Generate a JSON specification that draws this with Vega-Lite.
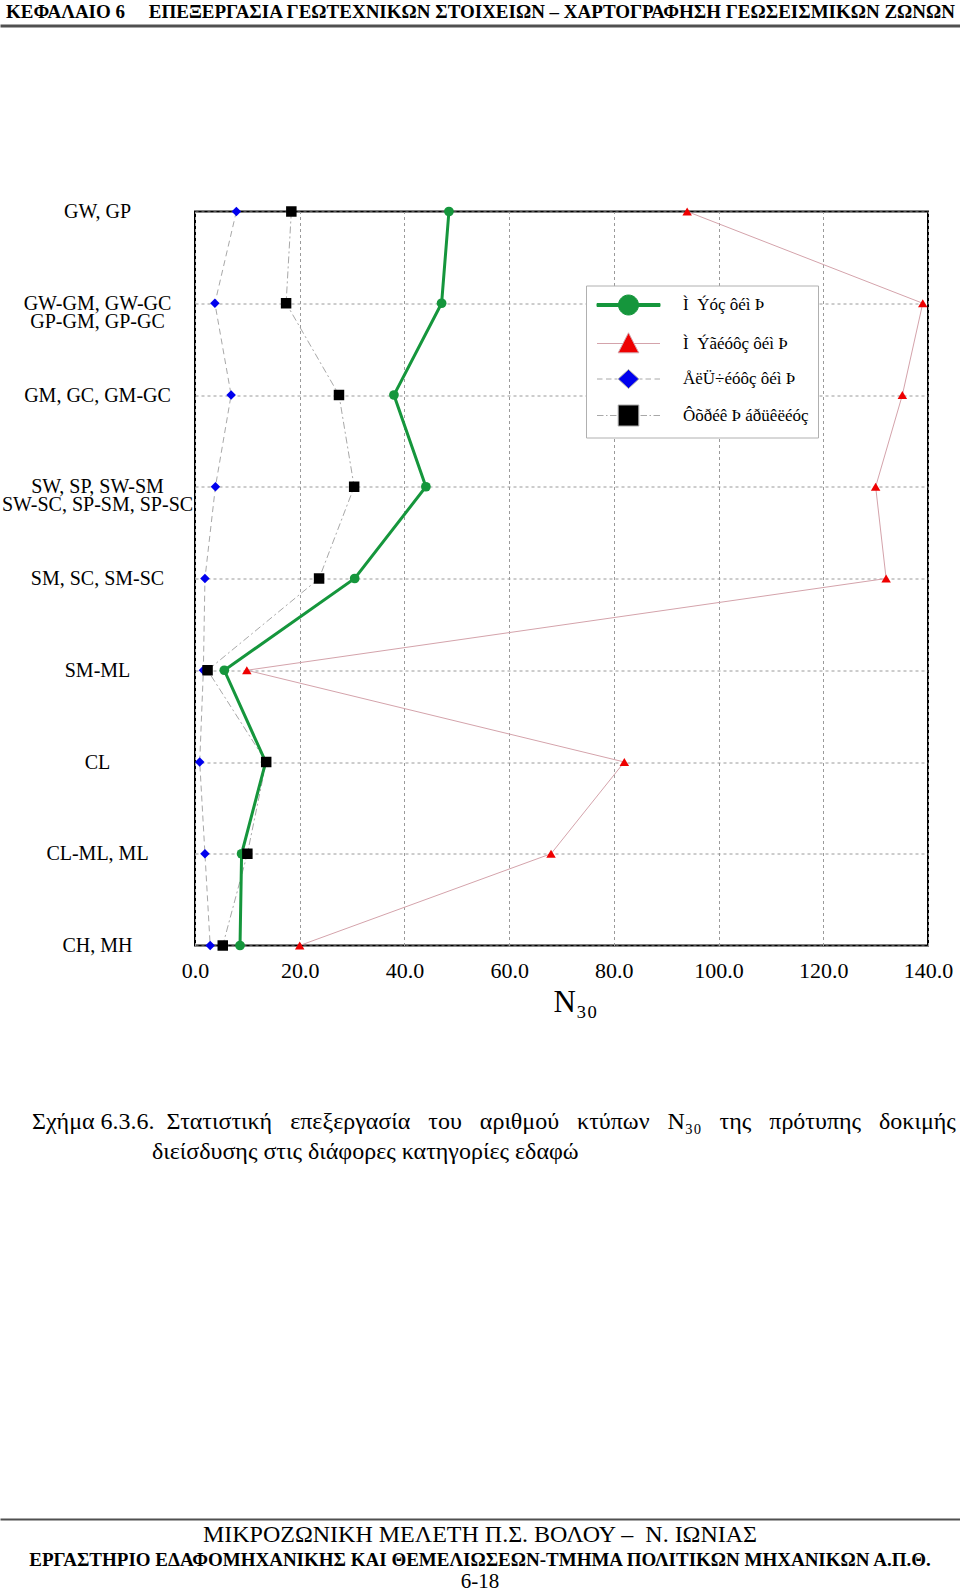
{
  "$schema": "https://vega.github.io/schema/vega-lite/v6.json",
  "padding": {"left": 0, "top": 2.5, "right": 0, "bottom": 0},
  "config": {"view": {"stroke": null}, "font": "Liberation Serif", "title": {"color": "black"}},
  "datasets": {
    "mean": [
      {"cat": "GW, GP", "n": 48.5},
      {"cat": "GW-GM, GW-GC\nGP-GM, GP-GC", "n": 47.1},
      {"cat": "GM, GC, GM-GC", "n": 38.0},
      {"cat": "SW, SP, SW-SM\nSW-SC, SP-SM, SP-SC", "n": 44.1},
      {"cat": "SM, SC, SM-SC", "n": 30.5},
      {"cat": "SM-ML", "n": 5.6},
      {"cat": "CL", "n": 13.5},
      {"cat": "CL-ML, ML", "n": 8.9},
      {"cat": "CH, MH", "n": 8.6}
    ],
    "max": [
      {"cat": "GW, GP", "n": 94.0},
      {"cat": "GW-GM, GW-GC\nGP-GM, GP-GC", "n": 139.0},
      {"cat": "GM, GC, GM-GC", "n": 135.1},
      {"cat": "SW, SP, SW-SM\nSW-SC, SP-SM, SP-SC", "n": 130.0},
      {"cat": "SM, SC, SM-SC", "n": 132.0},
      {"cat": "SM-ML", "n": 9.9},
      {"cat": "CL", "n": 82.0},
      {"cat": "CL-ML, ML", "n": 68.0},
      {"cat": "CH, MH", "n": 20.0}
    ],
    "min": [
      {"cat": "GW, GP", "n": 7.9},
      {"cat": "GW-GM, GW-GC\nGP-GM, GP-GC", "n": 3.8},
      {"cat": "GM, GC, GM-GC", "n": 6.9},
      {"cat": "SW, SP, SW-SM\nSW-SC, SP-SM, SP-SC", "n": 3.9},
      {"cat": "SM, SC, SM-SC", "n": 1.9},
      {"cat": "SM-ML", "n": 1.6},
      {"cat": "CL", "n": 0.9},
      {"cat": "CL-ML, ML", "n": 1.9},
      {"cat": "CH, MH", "n": 2.9}
    ],
    "std": [
      {"cat": "GW, GP", "n": 18.4},
      {"cat": "GW-GM, GW-GC\nGP-GM, GP-GC", "n": 17.4},
      {"cat": "GM, GC, GM-GC", "n": 27.5},
      {"cat": "SW, SP, SW-SM\nSW-SC, SP-SM, SP-SC", "n": 30.4},
      {"cat": "SM, SC, SM-SC", "n": 23.7},
      {"cat": "SM-ML", "n": 2.4},
      {"cat": "CL", "n": 13.6},
      {"cat": "CL-ML, ML", "n": 10.0},
      {"cat": "CH, MH", "n": 5.3}
    ]
  },
  "spacing": 0,
  "resolve": {"scale": {"fill": "independent", "stroke": "independent", "shape": "independent"}},
  "vconcat": [
    {
      "width": 960,
      "height": 174.7,
      "data": {"values": []},
      "mark": "text",
      "encoding": {
        "x": {"field": "v", "type": "quantitative", "scale": {"domain": [0, 1]},
              "axis": {"orient": "top", "domainColor": "#505050", "domainWidth": 3, "labels": false, "ticks": false, "grid": false, "title": null}}
      },
      "title": {"text": "ΚΕΦΑΛΑΙΟ 6\u00a0\u00a0\u00a0\u00a0 ΕΠΕΞΕΡΓΑΣΙΑ ΓΕΩΤΕΧΝΙΚΩΝ ΣΤΟΙΧΕΙΩΝ – ΧΑΡΤΟΓΡΑΦΗΣΗ ΓΕΩΣΕΙΣΜΙΚΩΝ ΖΩΝΩΝ",
                "anchor": "start", "frame": "group", "dx": 6, "offset": 4, "font": "Liberation Serif", "fontWeight": "bold", "fontSize": 19}
    },
    {
      "spacing": 0,
      "bounds": "flush",
      "resolve": {"scale": {"fill": "independent", "stroke": "independent", "shape": "independent"}},
      "hconcat": [
        {"width": 195, "height": 834, "data": {"values": []}, "mark": "text"},
        {
          "width": 733,
          "height": 734,
          "view": {"stroke": "black", "strokeWidth": 2},
          "encoding": {
            "x": {"field": "n", "type": "quantitative",
                  "scale": {"domain": [0, 140], "nice": false, "zero": false},
                  "axis": {"values": [0, 20, 40, 60, 80, 100, 120, 140], "format": ".1f", "labelFlush": false,
                           "labelFont": "Liberation Serif", "labelFontSize": 22, "labelPadding": 15, "labelColor": "black",
                           "ticks": false, "domain": false, "grid": true, "gridDash": [3, 3], "gridColor": "#9a9a9a",
                           "title": "N₃₀", "titleX": 380, "titleFont": "Liberation Serif", "titleFontSize": 31, "titleFontWeight": "normal", "titleColor": "black", "titlePadding": 6}},
            "y": {"field": "cat", "type": "nominal",
                  "sort": ["GW, GP", "GW-GM, GW-GC\nGP-GM, GP-GC", "GM, GC, GM-GC", "SW, SP, SW-SM\nSW-SC, SP-SM, SP-SC", "SM, SC, SM-SC", "SM-ML", "CL", "CL-ML, ML", "CH, MH"],
                  "scale": {"type": "point", "padding": 0},
                  "axis": {"title": null, "labelAlign": "center", "labelBaseline": "middle", "labelPadding": 98, "labelFont": "Liberation Serif", "labelFontSize": 20,
                           "labelLineHeight": 18, "labelLimit": 0, "labelColor": "black", "ticks": false, "domain": false,
                           "grid": true, "gridDash": [3, 3], "gridColor": "#9a9a9a", "labelExpr": "split(datum.label, '\\n')"}}
          },
          "layer": [
            {"data": {"name": "max"}, "mark": {"type": "line", "orient": "horizontal", "color": "#d4a3ab", "strokeWidth": 1}},
            {"data": {"name": "min"}, "mark": {"type": "line", "orient": "horizontal", "color": "#a8a8a8", "strokeWidth": 1, "strokeDash": [6, 4]}},
            {"data": {"name": "std"}, "mark": {"type": "line", "orient": "horizontal", "color": "#a8a8a8", "strokeWidth": 1, "strokeDash": [7, 3, 2, 3]}},
            {"data": {"name": "mean"}, "mark": {"type": "line", "orient": "horizontal", "color": "#15963c", "strokeWidth": 3}},
            {"data": {"name": "max"}, "mark": {"type": "point", "shape": "triangle-up", "filled": true, "opacity": 1, "size": 90, "color": "#ee0000"}},
            {"data": {"name": "min"}, "mark": {"type": "point", "shape": "diamond", "filled": true, "opacity": 1, "size": 90, "color": "#0000ee"}},
            {"data": {"name": "mean"}, "mark": {"type": "point", "shape": "circle", "filled": true, "opacity": 1, "size": 95, "color": "#15963c"}},
            {"data": {"name": "std"}, "mark": {"type": "point", "shape": "square", "filled": true, "opacity": 1, "size": 110, "color": "#000000"}},
            {
              "data": {"values": []},
              "mark": {"type": "point", "filled": true, "opacity": 1},
              "encoding": {
                "fill": {"field": "series", "type": "nominal",
                         "scale": {"domain": ["Ì\u00a0 Ýóç ôéì Þ", "Ì\u00a0 Ýãéóôç ôéì Þ", "ÅëÜ÷éóôç ôéì Þ", "Ôõðéê Þ áðüêëéóç"], "range": ["#15963c", "#ee0000", "#0000ee", "#000000"]},
                         "legend": {"orient": "none", "legendX": 391, "legendY": 74, "title": null, "symbolSize": 400, "symbolOffset": 23, "labelOffset": 44,
                                    "labelFont": "Liberation Serif", "labelFontSize": 17, "labelColor": "black", "labelLimit": 0, "padding": 9, "rowPadding": 12.5,
                                    "strokeColor": "#b0b0b0", "fillColor": "white", "symbolStrokeWidth": 1}},
                "stroke": {"field": "series", "type": "nominal",
                           "scale": {"domain": ["Ì\u00a0 Ýóç ôéì Þ", "Ì\u00a0 Ýãéóôç ôéì Þ", "ÅëÜ÷éóôç ôéì Þ", "Ôõðéê Þ áðüêëéóç"], "range": ["#15963c", "#d4a3ab", "#a8a8a8", "#a8a8a8"]},
                           "legend": {"orient": "none", "legendX": 391, "legendY": 74, "title": null, "symbolSize": 400, "symbolOffset": 23, "labelOffset": 44,
                                      "labelFont": "Liberation Serif", "labelFontSize": 17, "labelColor": "black", "labelLimit": 0, "padding": 9, "rowPadding": 12.5,
                                      "strokeColor": "#b0b0b0", "fillColor": "white", "symbolStrokeWidth": 1}},
                "shape": {"field": "series", "type": "nominal",
                          "scale": {"domain": ["Ì\u00a0 Ýóç ôéì Þ", "Ì\u00a0 Ýãéóôç ôéì Þ", "ÅëÜ÷éóôç ôéì Þ", "Ôõðéê Þ áðüêëéóç"],
                                    "range": [
                                      "M-1,0 A1,1 0 1,1 1,0 A1,1 0 1,1 -1,0 Z M-3.15,-0.15 H-0.9 V0.15 H-3.15 Z M0.9,-0.15 H3.15 V0.15 H0.9 Z",
                                      "M0,-1.07 L1.03,0.93 L-1.03,0.93 Z M-3.15,0 H-0.55 M0.55,0 H3.15",
                                      "M0,-0.95 L1.03,0 L0,0.95 L-1.03,0 Z M-3.15,0 H-2.6 M-2.25,0 H-1.7 M-1.4,0 H-1.1 M1.1,0 H1.4 M1.7,0 H2.25 M2.6,0 H3.15",
                                      "M-1.03,-1.05 H1.03 V1.05 H-1.03 Z M-3.15,0 H-2.5 M-2.25,0 H-2.1 M-1.85,0 H-1.2 M1.2,0 H1.85 M2.1,0 H2.25 M2.5,0 H3.15"
                                    ]},
                          "legend": {"orient": "none", "legendX": 391, "legendY": 74, "title": null, "symbolSize": 400, "symbolOffset": 23, "labelOffset": 44,
                                     "labelFont": "Liberation Serif", "labelFontSize": 17, "labelColor": "black", "labelLimit": 0, "padding": 9, "rowPadding": 12.5,
                                     "strokeColor": "#b0b0b0", "fillColor": "white", "symbolStrokeWidth": 1}}
              }
            }
          ]
        }
      ]
    },
    {
      "width": 960,
      "height": 58.8,
      "data": {"values": []},
      "mark": "text",
      "title": {"text": ["Σχήμα 6.3.6.\u00a0 Στατιστική\u00a0\u00a0 επεξεργασία\u00a0\u00a0 του\u00a0\u00a0 αριθμού\u00a0\u00a0 κτύπων\u00a0\u00a0 N₃₀\u00a0\u00a0 της\u00a0\u00a0 πρότυπης\u00a0\u00a0 δοκιμής",
                         "\u200b\u00a0\u00a0\u00a0\u00a0\u00a0\u00a0\u00a0\u00a0\u00a0\u00a0\u00a0\u00a0\u00a0\u00a0\u00a0\u00a0\u00a0\u00a0\u00a0\u00a0διείσδυσης στις διάφορες κατηγορίες εδαφώ"],
                "orient": "bottom", "anchor": "start", "frame": "group", "dx": 32, "offset": 6, "font": "Liberation Serif", "fontWeight": "normal", "fontSize": 24, "lineHeight": 29.5}
    },
    {
      "width": 960,
      "height": 354.5,
      "data": {"values": []},
      "mark": "text",
      "encoding": {
        "x": {"field": "v", "type": "quantitative", "scale": {"domain": [0, 1]},
              "axis": {"orient": "bottom", "domainColor": "#505050", "domainWidth": 2, "labels": false, "ticks": false, "grid": false, "title": null}}
      },
      "title": {"text": "ΜΙΚΡΟΖΩΝΙΚΗ ΜΕΛΕΤΗ Π.Σ. ΒΟΛΟΥ –\u00a0 Ν. ΙΩΝΙΑΣ", "subtitle": "ΕΡΓΑΣΤΗΡΙΟ ΕΔΑΦΟΜΗΧΑΝΙΚΗΣ ΚΑΙ ΘΕΜΕΛΙΩΣΕΩΝ-ΤΜΗΜΑ ΠΟΛΙΤΙΚΩΝ ΜΗΧΑΝΙΚΩΝ Α.Π.Θ.",
                "orient": "bottom", "anchor": "middle", "frame": "group", "offset": 3.5, "font": "Liberation Serif", "fontWeight": "normal", "fontSize": 24,
                "subtitleFont": "Liberation Serif", "subtitleFontWeight": "bold", "subtitleFontSize": 19, "subtitleColor": "black", "subtitlePadding": 4.5}
    },
    {
      "width": 960,
      "height": 1,
      "data": {"values": []},
      "mark": "text",
      "title": {"text": "6-18", "orient": "bottom", "anchor": "middle", "frame": "group", "offset": -1.5, "font": "Liberation Serif", "fontWeight": "normal", "fontSize": 21}
    }
  ]
}
